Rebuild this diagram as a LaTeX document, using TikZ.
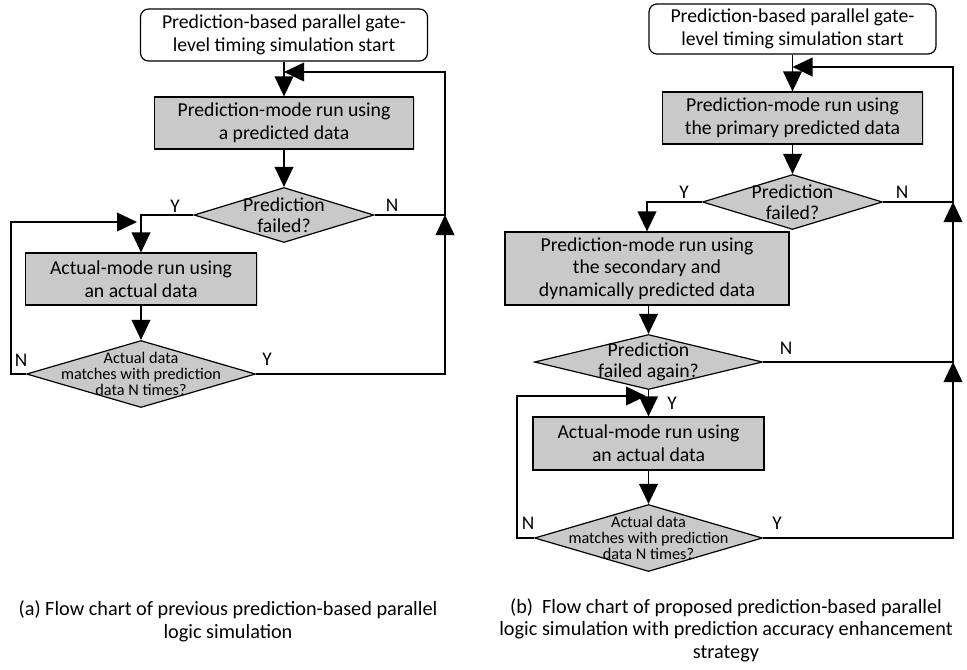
\documentclass[tikz,border=0pt]{standalone}
\usepackage{fontspec}
\setmainfont{Carlito}
\usetikzlibrary{shapes.geometric}
\usetikzlibrary{arrows.meta}
\usetikzlibrary{shadows}
\begin{document}
\begin{tikzpicture}[x=0.75pt,y=-0.75pt,
    boxText/.style={font=\fontsize{14.8}{17}\selectfont, align=center},
    startBox/.style={boxText, draw, fill=white, rounded corners=6pt, line width=0.9pt, inner sep=0pt},
    flowBox/.style={boxText, draw, fill=black!21, line width=0.9pt, inner sep=0pt,
        drop shadow={shadow xshift=0.8pt, shadow yshift=-0.8pt, opacity=0.25}},
    decision/.style={diamond, draw, fill=black!21, line width=0.9pt, inner sep=0pt},
    bigAsk/.style={align=center, inner sep=0pt, font=\fontsize{14.8}{15.5}\selectfont},
    smallAsk/.style={align=center, inner sep=0pt, font=\fontsize{12.2}{12.2}\selectfont},
    flowArrow/.style={line width=1.2pt, -{Triangle[length=15pt,width=14pt]}},
    branchLabel/.style={font=\fontsize{14.5}{16}\selectfont, inner sep=0pt},
    captionText/.style={font=\fontsize{15.2}{17}\selectfont, align=center}
]
\useasboundingbox (0,0) rectangle (967,669);

  % (a) previous flow
  \node[startBox, minimum width=215.25pt, minimum height=39pt] (startA) at (284,35)
    {Prediction-based parallel gate-\\level timing simulation start};
  \node[flowBox, minimum width=194.25pt, minimum height=39pt] (runA) at (284,123)
    {Prediction-mode run using\\a predicted data};
  \node[decision, minimum width=135pt, minimum height=41.25pt,
    label={[bigAsk]center:Prediction\\failed?}] (failA) at (284,215) {};
  \node[flowBox, minimum width=173.25pt, minimum height=39pt] (actA) at (141,279)
    {Actual-mode run using\\an actual data};
  \node[decision, minimum width=171.75pt, minimum height=50.25pt,
    label={[smallAsk]center:Actual data\\matches with prediction\\data N times?}] (matchA) at (141,374) {};

  \coordinate (topA) at (284,72);
  \coordinate (railTopA) at (445,72);
  \coordinate (joinA) at (445,215);
  \coordinate (loopA) at (137,222);

  \draw[flowArrow] (startA) -- (runA);
  \draw[flowArrow] (runA) -- (failA);
  \draw[flowArrow] (failA.west) -| (actA.north);
  \draw[flowArrow] (failA.east) -| (railTopA) -- (topA);
  \draw[flowArrow] (actA) -- (matchA);
  \draw[flowArrow] (matchA.east) -| (joinA);
  \draw[flowArrow] (matchA.west) -- ++(-15,0) |- (loopA);

  \node[branchLabel] (yFailA) at (175,206) {Y};
  \node[branchLabel] (nFailA) at (392,205) {N};
  \node[branchLabel] (nMatchA) at (21,360) {N};
  \node[branchLabel] (yMatchA) at (267,359) {Y};

  % (b) proposed flow
  \node[startBox, minimum width=215.25pt, minimum height=37.5pt] (startB) at (792.5,29)
    {Prediction-based parallel gate-\\level timing simulation start};
  \node[flowBox, minimum width=195pt, minimum height=39pt] (runB) at (792.5,118)
    {Prediction-mode run using\\the primary predicted data};
  \node[decision, minimum width=135pt, minimum height=41.25pt,
    label={[bigAsk]center:Prediction\\failed?}] (failB) at (792.5,202) {};
  \node[flowBox, minimum width=213pt, minimum height=54.75pt] (secB) at (647,268.5)
    {Prediction-mode run using\\the secondary and\\dynamically predicted data};
  \node[decision, minimum width=171pt, minimum height=41.25pt,
    label={[bigAsk]center:Prediction\\failed again?}] (againB) at (648.5,362) {};
  \node[flowBox, minimum width=173.25pt, minimum height=39.75pt] (actB) at (648.5,443.5)
    {Actual-mode run using\\an actual data};
  \node[decision, minimum width=171pt, minimum height=50.25pt,
    label={[smallAsk]center:Actual data\\matches with prediction\\data N times?}] (matchB) at (648.5,538) {};

  \coordinate (topB) at (792.5,67);
  \coordinate (railTopB) at (953,67);
  \coordinate (joinB) at (953,202);
  \coordinate (joinLowB) at (953,362);
  \coordinate (loopB) at (646,396);

  \draw[flowArrow] (startB) -- (runB);
  \draw[flowArrow] (runB) -- (failB);
  \draw[flowArrow] (failB.west) -| (secB.north);
  \draw[flowArrow] (failB.east) -| (railTopB) -- (topB);
  \draw[flowArrow] (secB.south -| againB.north) -- (againB.north);
  \draw[flowArrow] (againB) -- (actB);
  \draw[flowArrow] (againB.east) -| (joinB);
  \draw[flowArrow] (actB) -- (matchB);
  \draw[flowArrow] (matchB.east) -| (joinLowB);
  \draw[flowArrow] (matchB.west) -- ++(-17,0) |- (loopB);

  \node[branchLabel] (yFailB) at (684,192) {Y};
  \node[branchLabel] (nFailB) at (902,192) {N};
  \node[branchLabel] (nAgainB) at (786,348) {N};
  \node[branchLabel] (yAgainB) at (672,403) {Y};
  \node[branchLabel] (nMatchB) at (528,523) {N};
  \node[branchLabel] (yMatchB) at (777,523) {Y};

  % captions
  \node[captionText] (capA) at (228,621)
    {(a) Flow chart of previous prediction-based parallel\\logic simulation};
  \node[captionText] (capB) at (726,630)
    {(b)\ \ Flow chart of proposed prediction-based parallel\\logic simulation with prediction accuracy enhancement\\strategy};

\end{tikzpicture}
\end{document}
